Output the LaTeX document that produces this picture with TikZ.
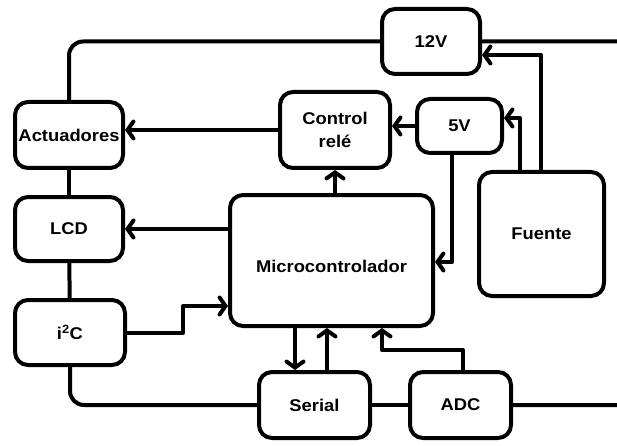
\documentclass[tikz,border=0pt]{standalone}
\usepackage{fontspec}
\setmainfont{Liberation Sans}[FakeStretch=1.08]
\usetikzlibrary{arrows.meta}

\begin{document}
\begin{tikzpicture}
    [x=1pt,y=-1pt,line width=4pt,line join=round,
     every node/.style={draw,rounded corners=13pt,inner sep=0pt,align=center,
                        font=\fontsize{17}{23}\selectfont\bfseries}]

    \tikzstyle{flecha} = [-{Straight Barb[length=6pt,width=17pt,line cap=round]}]
    \tikzstyle{curva}  = [rounded corners=14pt]

    \useasboundingbox (0,0) rectangle (617,446);

    % bloques
    \node [minimum width=108pt,minimum height=66pt] (act)    at (69,135)    {Actuadores} ;
    \node [minimum width=108pt,minimum height=64pt] (lcd)    at (69,229)    {LCD} ;
    \node [minimum width=110pt,minimum height=65pt] (i2c)    at (70,332.5)  {i\textsuperscript{2}C} ;
    \node [minimum width=110pt,minimum height=76pt] (ctrl)   at (335,130)   {Control\\relé} ;
    \node [minimum width=98pt, minimum height=65pt] (v12)    at (431,41.5)  {12V} ;
    \node [minimum width=85pt, minimum height=54pt] (v5)     at (459.5,126) {5V} ;
    \node [minimum width=125pt,minimum height=124pt](fuente) at (541.5,234) {Fuente} ;
    \node [minimum width=203pt,minimum height=131pt,text height=23pt,text depth=0pt]
          (micro) at (331.5,260.5) {Microcontrolador} ;
    \node [minimum width=111pt,minimum height=66pt] (serial) at (314.5,405) {Serial} ;
    \node [minimum width=101pt,minimum height=66pt] (adc)    at (460.5,405) {ADC} ;

    % puntos de paso
    \coordinate (p1)    at (183,306) ;
    \coordinate (p2)    at (295,0) ;
    \coordinate (p3)    at (327,0) ;
    \coordinate (p4)    at (382,350) ;
    \coordinate (p5)    at (452,262) ;
    \coordinate (p6)    at (520,118) ;
    \coordinate (p7)    at (541,55) ;
    \coordinate (borde) at (645,0) ;

    % bus de alimentacion
    \draw [curva] (act.north) |- (v12.west) ;
    \draw [curva] (v12.east) -- (v12.east -| borde) |- (adc.east) ;
    \draw (act) -- (lcd) ;
    \draw (lcd) -- (i2c) ;
    \draw [curva] (i2c.south) |- (serial.west) ;
    \draw (serial) -- (adc) ;

    % senales
    \draw [flecha] (ctrl.west) -- (ctrl.west -| act.east) ;
    \draw [flecha] (v5.west) -- (v5.west -| ctrl.east) ;
    \draw [flecha] (ctrl.south |- micro.north) -- (ctrl.south) ;
    \draw [flecha] (micro.west |- lcd) -- (lcd.east) ;
    \draw [flecha] (i2c.east) -- (p1 |- i2c.east) -- (p1) -- (p1 -| micro.west) ;
    \draw [flecha] (p2 |- micro.south) -- (p2 |- serial.north) ;
    \draw [flecha] (p3 |- serial.north) -- (p3 |- micro.south) ;
    \draw [flecha] (adc.north -| 463,0) |- (p4) -- (p4 |- micro.south) ;
    \draw [flecha] (p5 |- v5.south) -- (p5) -- (p5 -| micro.east) ;
    \draw [flecha] (p6 |- fuente.north) -- (p6) -- (p6 -| v5.east) ;
    \draw [flecha] (p7 |- fuente.north) -- (p7) -- (p7 -| v12.east) ;
\end{tikzpicture}
\end{document}
